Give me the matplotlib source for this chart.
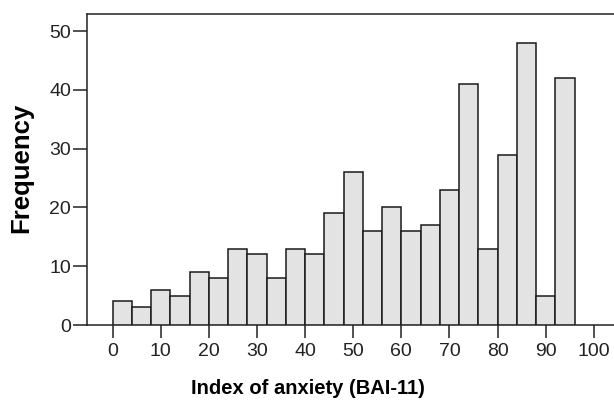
"""Histogram of BAI-11 anxiety index (frequency per 4-point bin)."""
import matplotlib
matplotlib.use("Agg")
import matplotlib.pyplot as plt
import numpy as np

BIN_WIDTH = 4
BIN_EDGES = np.arange(0, 96 + BIN_WIDTH, BIN_WIDTH)
COUNTS = [4, 3, 6, 5, 9, 8, 13, 12, 8, 13, 12, 19,
          26, 16, 20, 16, 17, 23, 41, 13, 29, 48, 5, 42]
X_TICKS = list(range(0, 101, 10))
Y_TICKS = [0, 10, 20, 30, 40, 50]

BAR_FILL = "#e3e3e3"
EDGE = "#1a1a1a"

plt.rcParams["font.family"] = ["Liberation Sans", "DejaVu Sans"]


def main():
    fig = plt.figure(figsize=(6.14, 4.07), dpi=100)
    ax = fig.add_axes([87 / 614, 82 / 407, 1 - 87 / 614, 311 / 407])

    ax.bar(BIN_EDGES[:-1], COUNTS, width=BIN_WIDTH, align="edge",
           color=BAR_FILL, edgecolor=EDGE, linewidth=1.1, zorder=3)

    ax.set_xlim(-5.3, 104.2)
    ax.set_ylim(0, 52.9)
    ax.set_xticks(X_TICKS)
    ax.set_yticks(Y_TICKS)
    ax.tick_params(axis="both", labelsize=14, colors="#222222", width=1.1)
    ax.tick_params(axis="x", length=9, pad=4)
    ax.tick_params(axis="y", length=10, pad=1.5)

    for side in ("left", "bottom", "top"):
        ax.spines[side].set_color("#222222")
        ax.spines[side].set_linewidth(1.1)
    ax.spines["right"].set_visible(False)

    ax.set_xlabel("Index of anxiety (BAI-11)", fontsize=14.5, fontweight="bold")
    ax.xaxis.set_label_coords(0.419, -0.203)
    ax.xaxis.label.set_va("center")
    ax.set_ylabel("Frequency", fontsize=18.5, fontweight="bold")
    ax.yaxis.set_label_coords(-0.125, 0.505)
    ax.yaxis.label.set_va("center")

    fig.savefig("out.png", dpi=100, facecolor="white")


if __name__ == "__main__":
    main()
